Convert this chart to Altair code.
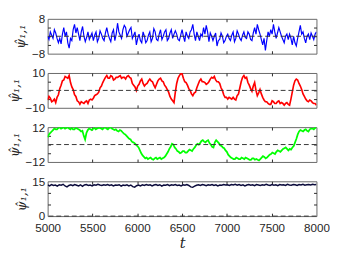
import altair as alt
import pandas as pd
import numpy as np

T0, T1 = 5000, 8000

blue_vals = [0, -1.5, 2, 0.5, -1, 3, 1.5, -1, -3, -1, -3.5, 1, 4, 0, 2, -3, -5.5, -1, -2, 3,
             5.5, 1.5, 4, 1, -2, 2, 4.5, 0, -2.5, -0.5, 2, -1.5, 0, 1.5, -2, 0.5, 2, -2.5, -1, 2.5,
             1, -1, -2, 1.5, 4, 1, -1, -2.5, 1.5, 3, -2, 1, 6, 2, 0.5, -1, 3, 5, 4, 0,
             1.5, 3, 4, -1, 0.5, 2, -4, -1, 1, -2, -3, 2, 0, -3, -2, 0.5, 2, -2.5, -1, 3.5,
             2, -1.5, -2, 1, 3, -1.5, 0, 2, 3, -2, -1, 1.5, 3, -1, 1, 2.5, 1, -1.5, -2, 0.5,
             3, 0, -2.5, 2, 0, -1, 2, 3, 5.5, 1, -2, 2, 0, -2, 1, 0, 4, 1, 5, 2,
             -2.5, 1.5, 0, -2, 0, 1.5, -4.5, -2, -1.5, 1.5, 0, -3, -2, 0, 1, -1, -2, 0.5, 2, -2.5,
             -1, 2.5, 1, -1, -2, 0.5, 2, -0.5, -1, 2, 1, -1.5, -2, 1.5, 4, 1, 5.5, 3, 1, -1.5,
             -4, -1, -6.5, -2, 2, 0, 3, 1, 5.5, 2, -1, 1.5, 4, 2, 0, -1.5, -3, 0, 1, -1.5,
             1, -1, -4, 0, -3, -4.5, -1, 2, 5, 1, 2, -1, -3, 0, 1, -1.5, 1.5, 0, -1.5, 1, 2]

red_vals = [-5.5, -3.5, -4.5, -6.5, -6, -5, -7, -4, -2.5, 1, 3, 5.5, 6, 8, 7.5, 7, 8.5, 4.5, 2, 0.5,
            -2.5, -3.5, -6, -6.5, -8, -6.5, -7, -7.5, -6.5, -6, -7.5, -5.5, -5, -5.5, -4.5, -3, -2.5, -2, -1, 1.5,
            2.5, 4.5, 6, 7.5, 8.5, 7, 7, 8.5, 8, 6, 6.5, 7.5, 7.5, 8, 8.5, 7, 7.5, 7.5, 6.5, 8,
            8.5, 7.5, 7, 4, 3, 2, 0, 2.5, 3.5, 5.5, 6.5, 4, 2.5, 3.5, 4, 5.5, 6.5, 5.5, 5, 3,
            1.5, 3.5, 5.5, 6.5, 7, 5.5, 5, 3, 2, 0.5, -1, -3.5, -5, -6, -7, -1, 4, 7, 8.5, 9.5,
            9.5, 7, 5, 4.5, 3, 1, 0, -2, -3, -1.5, -1, 1.5, 3.5, 5.5, 6.5, 5, 5, 4.5, 3.5, 4,
            5, 6.5, 7.5, 7, 8, 6, 5, 5, 4, 1.5, 0, -2.5, -4, -4, -5, -4, -4.5, -5, -4, -5,
            -5.5, -3, -2, 1.5, 5, 7.5, 8.5, 7, 7.5, 4.5, 3, 1, -0.5, 2.5, 4.5, 0, -3, -1.5, 0.5, -2,
            -4, -5.5, -6.5, -6.5, -7.5, -8, -8, -6, -6.5, -7.5, -7.5, -6.5, -6, -7.5, -7, -7.5, -8.5, -7.5, -7, -8,
            -8.5, -5, -1, 3, 5.5, 6.5, 6, 4, 2.5, 0.5, -2, -3.5, -5, -6, -6.5, -5.5, -6, -7, -7.5, -7.5, -8.5]

green_vals = [5, 7, 8, 9, 10, 11, 10.5, 10.5, 11.5, 12, 11, 11.5, 12, 11, 11.5, 12, 11, 10.5, 11.5, 10.5,
              10.5, 11.5, 11, 10.5, 10, 9, 9.5, 6, 3.5, 8, 10, 11, 10.5, 10, 11, 11.5, 10.5, 11, 11.5, 11.5,
              11, 10.5, 11.5, 12, 11, 10.5, 11.5, 12, 11, 10.5, 10, 10.5, 9.5, 9, 10, 9.5, 8.5, 7.5, 7, 6,
              5, 4, 3.5, 2, 1.5, 1, 0, -1, -2, -4, -6, -7.5, -8.5, -9.5, -9, -10, -9.5, -9, -10, -10.5,
              -9.5, -9, -10, -9.5, -9, -10, -9.5, -9, -8, -6.5, -5, -3, -1.5, 0.5, 0, -2, -3, -4.5, -5, -6,
              -5.5, -4.5, -4.5, -5.5, -5.5, -4.5, -3.5, -4, -4.5, -3, -2, -0.5, 0.5, 0, 1, 2.5, 3, 2, 1.5, 2.5,
              3, 1, 0, -1.5, -2, 1.5, 3, 2, 1, -0.5, -1, -2, -2.5, -4, -5, -7, -8, -9, -9.5, -10,
              -10, -9, -9.5, -10, -10, -9, -9.5, -10, -9, -9.5, -10, -10.5, -10.5, -9.5, -9.5, -10.5, -10, -10.5, -11, -10,
              -9, -8, -8.5, -9.5, -9, -8, -7, -6.5, -5.5, -6, -6.5, -5, -4, -4.5, -5, -4, -3, -2.5, -2, -3,
              -4, -3, -3.5, -2, -1, 1.5, 4, 7, 9, 10, 9.5, 9, 10, 10.5, 9.5, 9, 10.5, 11, 11, 10.5, 11.5, 11.5]

navy_vals = [13.5, 13.0, 13.6, 13.2, 13.4, 12.9, 13.5, 13.3, 13.7, 13.0, 12.6, 13.2, 13.5, 13.1, 13.6, 13.3, 13.0, 13.5, 12.8, 13.4,
             13.6, 13.2, 13.4, 13.0, 13.5, 13.3, 13.7, 13.4, 13.2, 13.5, 13.3, 13.6, 13.2, 13.5, 13.0, 13.4, 13.3, 13.5, 12.9, 13.4,
             13.2, 13.5, 13.0, 13.4, 12.7, 12.5, 13.1, 13.4, 13.0, 13.5, 13.2, 13.6, 13.3, 13.5, 13.0, 13.4, 13.6, 13.2, 13.5, 12.9,
             13.4, 13.3, 13.6, 13.1, 13.5, 13.3, 13.6, 13.2, 13.4, 13.0, 13.5, 13.3, 13.6, 13.2, 12.6, 12.4, 12.9, 13.3, 13.5, 13.2,
             13.6, 13.4, 13.1, 13.5, 13.3, 13.6, 13.2, 13.5, 13.0, 13.4, 13.3, 13.6, 13.4, 13.5, 13.2, 13.6, 13.4, 13.7, 13.3, 13.6,
             13.2, 13.5, 13.0, 13.4, 13.6, 13.3, 13.5, 13.1, 13.6, 13.4, 13.2, 13.5, 13.3, 13.7, 13.4, 13.2, 13.6, 13.3, 13.5, 13.1,
             13.6, 13.4, 13.5, 13.2, 13.7, 13.4, 13.3, 13.6, 13.5, 13.2, 13.6, 13.4, 13.7, 13.3, 13.5, 13.6, 13.4, 13.7, 13.5, 13.6]

panel_colors = ["#0000ff", "#ff0000", "#00ff00", "#0b0b3b"]
panel_widths = [1.2, 1.7, 1.8, 1.5]
panel_limits = [(-8, 8), (-10, 10), (-12, 12), (0, 15)]
panel_ticks = [[-4, 0, 4], [-5, 0, 5], [-6, 0, 6], [5, 10]]
series = [blue_vals, red_vals, green_vals, navy_vals]

x_label_values = [5000, 5500, 6000, 6500, 7000, 7500, 8000]
x_inner_ticks = [5500, 6000, 6500, 7000, 7500]

Y_TITLE = "\u03c8\u0302\u2081,\u2081"
W, H = 278, 36
FRAME = "#666666"
INK = "#262626"


def make_panel(vals, color, sw, lims, yticks, bottom):
    df = pd.DataFrame({"t": np.linspace(T0, T1, len(vals)), "v": vals})
    zero_df = pd.DataFrame({"z": [0]})
    xs = alt.Scale(domain=[T0, T1], nice=False, zero=False)
    ys = alt.Scale(domain=list(lims), nice=False, zero=False)

    if bottom:
        xaxis = alt.Axis(values=x_label_values, ticks=False, domain=False, grid=False,
                         format="d", labelOverlap=False, labelFlush=False,
                         labelPadding=7, title="t", titleFont="DejaVu Serif",
                         titleFontStyle="italic", titleFontWeight="normal",
                         titleFontSize=15, titlePadding=2, titleColor=INK)
    else:
        xaxis = alt.Axis(values=x_label_values, ticks=False, domain=False, grid=False,
                         labels=False, title=None)

    yaxis = alt.Axis(values=list(lims), ticks=False, domain=False, grid=False,
                     labelOverlap=False, labelFlush=False,
                     labelPadding=3, title=Y_TITLE, titleFont="DejaVu Serif",
                     titleFontStyle="italic", titleFontWeight="normal",
                     titleFontSize=13, titlePadding=4, titleColor=INK)

    line = alt.Chart(df).mark_line(color=color, strokeWidth=sw, clip=True).encode(
        x=alt.X("t:Q", scale=xs, axis=xaxis),
        y=alt.Y("v:Q", scale=ys, axis=yaxis),
    )
    ticks_lb = alt.Chart(df).mark_line(opacity=0).encode(
        x=alt.X("t:Q", axis=alt.Axis(orient="bottom", offset=-3, values=x_inner_ticks,
                                     labels=False, domain=False, grid=False, tickSize=3,
                                     title=None)),
        y=alt.Y("v:Q", axis=alt.Axis(orient="left", offset=-3, values=yticks,
                                     labels=False, domain=False, grid=False, tickSize=3,
                                     title=None)),
    )
    ticks_rt = alt.Chart(df).mark_line(opacity=0).encode(
        x=alt.X("t:Q", axis=alt.Axis(orient="top", offset=-3, values=x_inner_ticks,
                                     labels=False, domain=False, grid=False, tickSize=3,
                                     title=None)),
        y=alt.Y("v:Q", axis=alt.Axis(orient="right", offset=-3, values=yticks,
                                     labels=False, domain=False, grid=False, tickSize=3,
                                     title=None)),
    )
    rule = alt.Chart(zero_df).mark_rule(color="#333333", strokeDash=[5, 3],
                                        strokeWidth=1).encode(
        y=alt.Y("z:Q", axis=None),
    )
    return (alt.layer(line, ticks_lb, ticks_rt, rule)
            .resolve_axis(x="independent", y="independent")
            .properties(width=W, height=H))


panels = [make_panel(series[i], panel_colors[i], panel_widths[i], panel_limits[i],
                     panel_ticks[i], i == 3)
          for i in range(4)]

chart = (alt.vconcat(*panels, spacing=20, bounds="flush")
         .properties(padding=0)
         .configure_view(stroke=FRAME, strokeWidth=1)
         .configure_axis(labelFont="Liberation Sans", labelFontSize=12,
                         labelColor=INK, tickColor=INK))

chart.save("out.html", embed_options={"renderer": "svg", "actions": False})
